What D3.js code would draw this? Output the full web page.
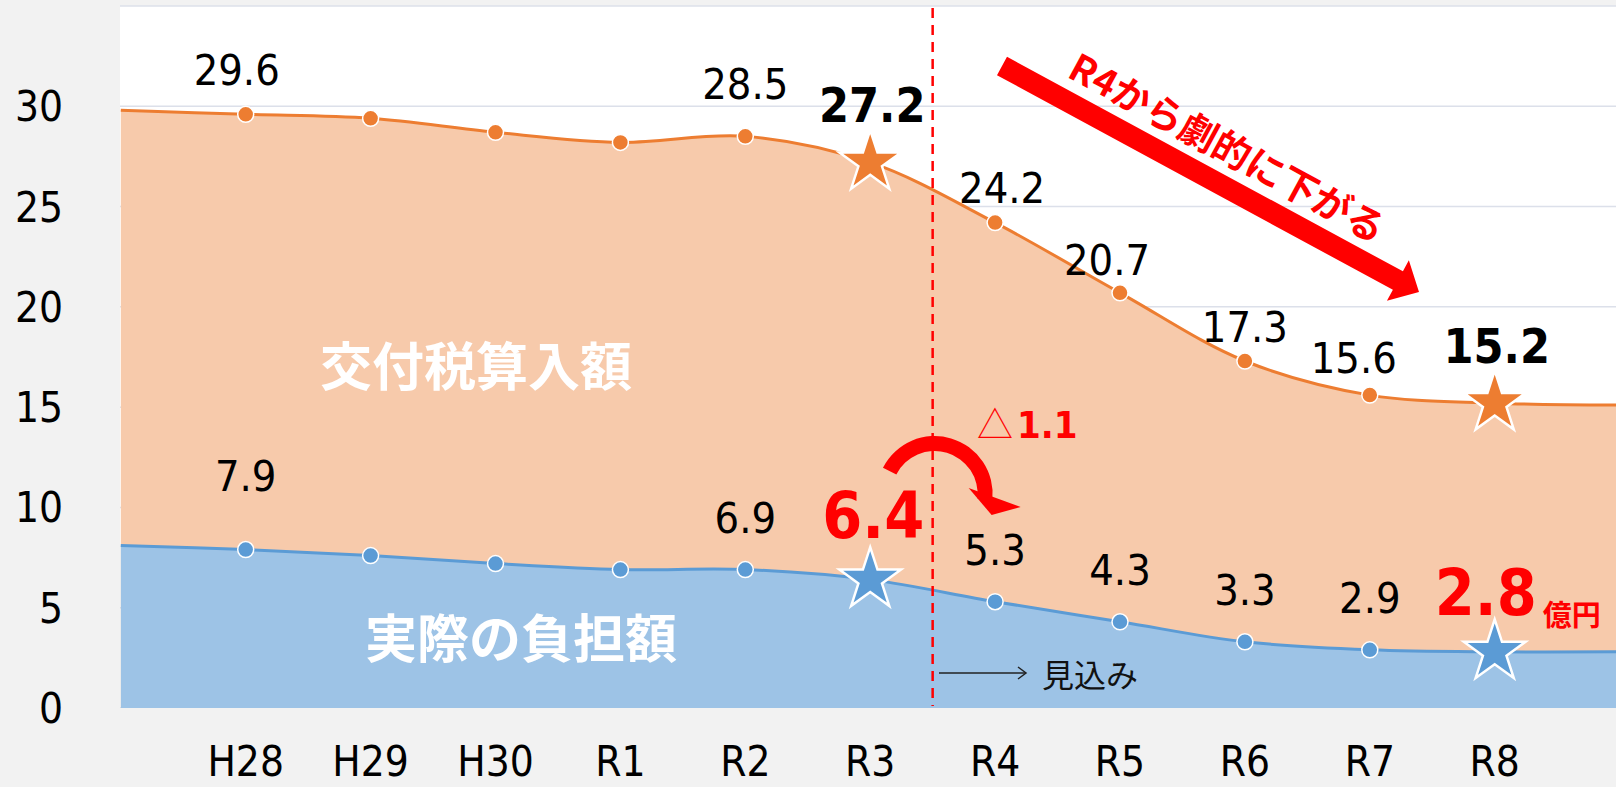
<!DOCTYPE html>
<html>
<head>
<meta charset="utf-8">
<script src="https://cdn.jsdelivr.net/npm/d3@7"></script>
<style>
  body { margin: 0; background: #f2f2f2; }
  svg { display: block; }
</style>
</head>
<body>
<div id="chart"></div>
<script>
// data (億円). H27 / R9 sit just outside the visible plot edges
var categories = ["H27", "H28", "H29", "H30", "R1", "R2", "R3", "R4", "R5", "R6", "R7", "R8", "R9"];
var shownCategories = ["H28", "H29", "H30", "R1", "R2", "R3", "R4", "R5", "R6", "R7", "R8"];
var kofuValues = [29.8, 29.6, 29.4, 28.7, 28.2, 28.5, 27.2, 24.2, 20.7, 17.3, 15.6, 15.2, 15.1];
var futanValues = [8.1, 7.9, 7.6, 7.2, 6.9, 6.9, 6.4, 5.3, 4.3, 3.3, 2.9, 2.8, 2.8];
var yTicks = [0, 5, 10, 15, 20, 25, 30];
var gridTicks = [0, 5, 10, 15, 20, 25, 30, 35];
var markerCategories = ["H28", "H29", "H30", "R1", "R2", "R4", "R5", "R6", "R7"];
var starCategories = ["R3", "R8"];
var labelCategories = ["H28", "R2", "R4", "R5", "R6", "R7"];

// label nudges [dx, distance above point]
var kofuNudge = {H28: [-9, 29], R2: [0, 37], R4: [7, 20], R5: [-13, 18], R6: [0, 19], R7: [-16, 22]};
var futanNudge = {H28: [0, 59], R2: [0, 37], R4: [0, 37], R5: [0, 37], R6: [0, 37], R7: [0, 37]};

var W = 1616, H = 787;
var plot = {left: 120, right: 1616, top: 6, bottom: 708};

var orange = "#ED7D31", orangeFill = "#F7CAAB";
var blue = "#5B9BD5", blueFill = "#9DC3E6";
var red = "#FF0000";
var numFont = "'DejaVu Sans Condensed', 'DejaVu Sans', sans-serif";
var jpFont = "'Noto Sans CJK JP', 'Noto Sans', sans-serif";

var svg = d3.select("#chart").append("svg")
    .attr("width", W)
    .attr("height", H);

svg.append("rect").attr("width", W).attr("height", H).attr("fill", "#f2f2f2");

var x = d3.scalePoint().domain(categories).range([120.8, 1619.6]);
var y = d3.scaleLinear().domain([0, 35]).range([plot.bottom, plot.top]);

svg.append("defs").append("clipPath").attr("id", "plotclip")
    .append("rect")
    .attr("x", plot.left).attr("y", plot.top - 2)
    .attr("width", plot.right - plot.left).attr("height", plot.bottom - plot.top + 2);

var g = svg.append("g").attr("clip-path", "url(#plotclip)");

g.append("rect")
    .attr("x", plot.left).attr("y", plot.top)
    .attr("width", plot.right - plot.left).attr("height", plot.bottom - plot.top)
    .attr("fill", "#ffffff");

g.selectAll(".grid").data(gridTicks).enter().append("line")
    .attr("x1", plot.left).attr("x2", plot.right)
    .attr("y1", function (d) { return y(d); })
    .attr("y2", function (d) { return y(d); })
    .attr("stroke", "#DCE0EA")
    .attr("stroke-width", 1.5);

var curve = d3.curveCatmullRom.alpha(0.5);

var area = d3.area()
    .x(function (d, i) { return x(categories[i]); })
    .y0(y(0))
    .y1(function (d) { return y(d); })
    .curve(curve);

var line = d3.line()
    .x(function (d, i) { return x(categories[i]); })
    .y(function (d) { return y(d); })
    .curve(curve);

g.append("path").attr("d", area(kofuValues)).attr("fill", orangeFill);
g.append("path").attr("d", area(futanValues)).attr("fill", blueFill);
g.append("path").attr("d", line(kofuValues)).attr("fill", "none")
    .attr("stroke", orange).attr("stroke-width", 3);
g.append("path").attr("d", line(futanValues)).attr("fill", "none")
    .attr("stroke", blue).attr("stroke-width", 3);

// boundary between actuals and forecast
var splitX = (x("R3") + x("R4")) / 2;
g.append("line")
    .attr("x1", splitX).attr("x2", splitX)
    .attr("y1", plot.top + 2).attr("y2", plot.bottom - 2)
    .attr("stroke", red).attr("stroke-width", 2.5)
    .attr("stroke-dasharray", "10,7");

// area captions
svg.append("text")
    .attr("x", 476).attr("y", 386)
    .attr("text-anchor", "middle")
    .attr("font-family", jpFont).attr("font-weight", "bold").attr("font-size", 52)
    .attr("fill", "#ffffff")
    .text("交付税算入額");
svg.append("text")
    .attr("x", 521).attr("y", 658)
    .attr("text-anchor", "middle")
    .attr("font-family", jpFont).attr("font-weight", "bold").attr("font-size", 52)
    .attr("fill", "#ffffff")
    .text("実際の負担額");

// markers
function idx(c) { return categories.indexOf(c); }

[[kofuValues, orange], [futanValues, blue]].forEach(function (s) {
    svg.selectAll(null).data(markerCategories).enter().append("circle")
        .attr("cx", function (c) { return x(c); })
        .attr("cy", function (c) { return y(s[0][idx(c)]); })
        .attr("r", 8)
        .attr("fill", s[1])
        .attr("stroke", "#ffffff")
        .attr("stroke-width", 1.5);
    svg.selectAll(null).data(starCategories).enter().append("path")
        .attr("d", d3.symbol().type(d3.symbolStar).size(1180)())
        .attr("transform", function (c) { return "translate(" + x(c) + "," + y(s[0][idx(c)]) + ")"; })
        .attr("fill", s[1])
        .attr("stroke", "#ffffff")
        .attr("stroke-width", 2.5);
});

// data labels
svg.selectAll(null).data(labelCategories).enter().append("text")
    .attr("x", function (c) { return x(c) + kofuNudge[c][0]; })
    .attr("y", function (c) { return y(kofuValues[idx(c)]) - kofuNudge[c][1]; })
    .attr("text-anchor", "middle")
    .attr("font-family", numFont).attr("font-size", 43).attr("fill", "#000")
    .text(function (c) { return kofuValues[idx(c)].toFixed(1); });

svg.selectAll(null).data(labelCategories).enter().append("text")
    .attr("x", function (c) { return x(c) + futanNudge[c][0]; })
    .attr("y", function (c) { return y(futanValues[idx(c)]) - futanNudge[c][1]; })
    .attr("text-anchor", "middle")
    .attr("font-family", numFont).attr("font-size", 43).attr("fill", "#000")
    .text(function (c) { return futanValues[idx(c)].toFixed(1); });

// highlighted values
svg.selectAll(null).data(starCategories).enter().append("text")
    .attr("x", function (c) { return x(c) + 2; })
    .attr("y", function (c) { return y(kofuValues[idx(c)]) - 40; })
    .attr("text-anchor", "middle")
    .attr("font-family", numFont).attr("font-weight", "bold").attr("font-size", 48)
    .attr("fill", "#000")
    .text(function (c) { return kofuValues[idx(c)].toFixed(1); });

svg.selectAll(null).data(starCategories).enter().append("text")
    .attr("x", function (c) { return x(c) + (c === "R3" ? 3 : -9); })
    .attr("y", function (c) { return y(futanValues[idx(c)]) - (c === "R3" ? 42 : 37); })
    .attr("text-anchor", "middle")
    .attr("font-family", numFont).attr("font-weight", "bold").attr("font-size", 64)
    .attr("fill", red)
    .text(function (c) { return futanValues[idx(c)].toFixed(1); });

svg.append("text")
    .attr("x", x("R8") + 48).attr("y", y(futanValues[idx("R8")]) - 26)
    .attr("font-family", jpFont).attr("font-weight", "bold").attr("font-size", 29)
    .attr("fill", red)
    .text("億円");

// axes labels
svg.selectAll(null).data(yTicks).enter().append("text")
    .attr("x", 63)
    .attr("y", function (d) { return y(d) + 15; })
    .attr("text-anchor", "end")
    .attr("font-family", numFont).attr("font-size", 42).attr("fill", "#000")
    .text(function (d) { return d; });

svg.selectAll(null).data(shownCategories).enter().append("text")
    .attr("x", function (c) { return x(c); })
    .attr("y", 776)
    .attr("text-anchor", "middle")
    .attr("font-family", numFont).attr("font-size", 42).attr("fill", "#000")
    .text(function (c) { return c; });

// big downward arrow with caption
var tail = [1002, 66], tip = [1419, 292];
var len = Math.hypot(tip[0] - tail[0], tip[1] - tail[1]);
var ang = Math.atan2(tip[1] - tail[1], tip[0] - tail[0]) * 180 / Math.PI;
var arrow = svg.append("g")
    .attr("transform", "translate(" + tail[0] + "," + tail[1] + ") rotate(" + ang + ")");
arrow.append("path")
    .attr("d", "M0,-10.5 L" + (len - 24) + ",-10.5 L" + (len - 24) + ",-23 L" + len + ",0 L" +
        (len - 24) + ",23 L" + (len - 24) + ",10.5 L0,10.5 Z")
    .attr("fill", red);
arrow.append("text")
    .attr("x", len / 2).attr("y", -38)
    .attr("text-anchor", "middle")
    .attr("dominant-baseline", "central")
    .attr("font-family", jpFont).attr("font-weight", "bold").attr("font-size", 38)
    .attr("fill", red)
    .text("R4から劇的に下がる");

// curved arrow for the R3 -> R4 drop
var arcC = [splitX + 2, 494];
svg.append("path")
    .attr("d", d3.arc().innerRadius(43).outerRadius(58)
        .startAngle(-63 * Math.PI / 180).endAngle(96 * Math.PI / 180)())
    .attr("transform", "translate(" + arcC[0] + "," + arcC[1] + ")")
    .attr("fill", red);
svg.append("path")
    .attr("d", "M" + (arcC[0] + 34) + "," + (arcC[1] - 6) + " L" + (arcC[0] + 86) + "," + (arcC[1] + 13) +
        " L" + (arcC[0] + 57) + "," + (arcC[1] + 21) + " Z")
    .attr("fill", red);

var delta = svg.append("text")
    .attr("x", 977).attr("y", 438)
    .attr("fill", red);
delta.append("tspan")
    .attr("font-family", jpFont).attr("font-size", 36).attr("font-weight", 300)
    .text("△");
delta.append("tspan")
    .attr("font-family", numFont).attr("font-size", 38).attr("font-weight", "bold")
    .attr("dx", 4)
    .text("1.1");

// forecast marker
svg.append("line")
    .attr("x1", 939).attr("x2", 1026).attr("y1", 673).attr("y2", 673)
    .attr("stroke", "#222").attr("stroke-width", 1.5);
svg.append("path")
    .attr("d", "M1018,667 L1026,673 L1018,679")
    .attr("fill", "none").attr("stroke", "#222").attr("stroke-width", 1.5);
svg.append("text")
    .attr("x", 1042).attr("y", 687)
    .attr("font-family", jpFont).attr("font-size", 32).attr("fill", "#111")
    .text("見込み");
</script>
</body>
</html>
